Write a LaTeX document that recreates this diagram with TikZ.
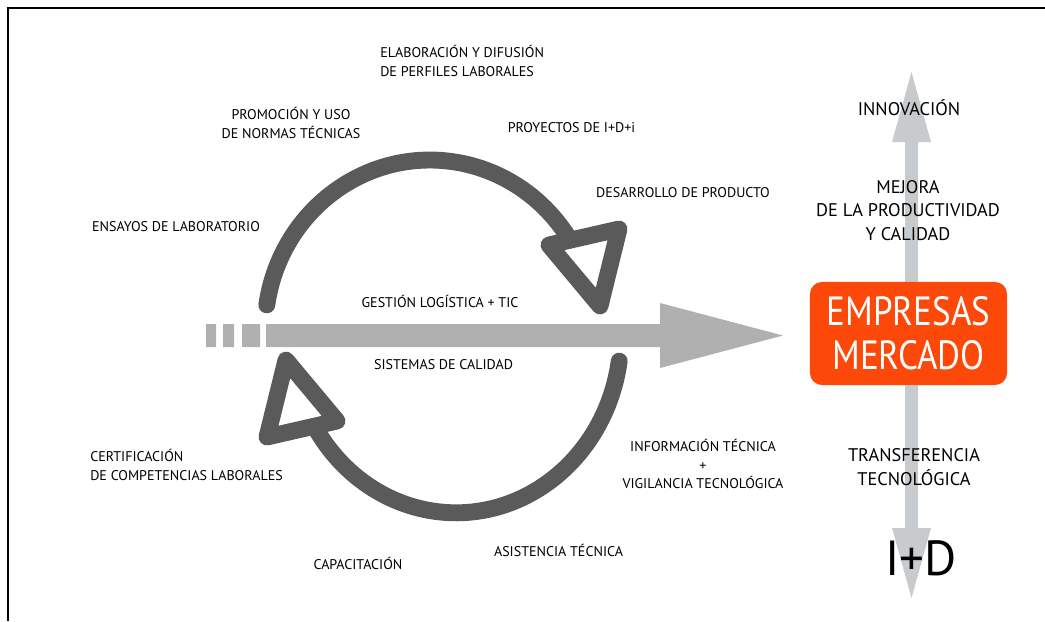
\documentclass[tikz,border=0pt]{standalone}
\usepackage{fontspec}
\setmainfont{PT Sans}
\newfontfamily\angosta[FakeStretch=0.86]{PT Sans}
\usetikzlibrary{positioning}
\definecolor{flecha}{RGB}{176,176,176}
\definecolor{flechav}{RGB}{200,203,205}
\definecolor{ciclo}{RGB}{90,90,90}
\definecolor{naranja}{RGB}{252,72,8}
\tikzset{
  etiq/.style={font=\fontsize{10}{13}\selectfont, inner sep=0pt, align=center},
  etiqg/.style={font=\fontsize{13}{16.7}\selectfont, inner sep=0pt, align=center},
  giro/.style={draw=ciclo, line width=12pt, line cap=round, line join=round},
  caja/.style={fill=naranja, text=white, rounded corners=0.3cm,
    minimum width=4.925cm, minimum height=2.575cm, align=center,
    font=\angosta\fontsize{29}{31.3}\selectfont}
}

\begin{document}
\begin{tikzpicture}[x=0.025cm, y=-0.025cm]
  \useasboundingbox (0,0) rectangle (1045,621);
  \path
    (266,324) coordinate (a1)
    (660,347) coordinate (a2)
    (783,335.5) coordinate (punta)
    (911.5,72) coordinate (arriba)
    (911.5,598) coordinate (abajo)
    (443,333) coordinate (centro);

  % marco
  \draw[line width=1.5pt] (8,621) -- (8,8) -- (1045,8);

  % flechas verticales
  \fill[flechav] (905,142) rectangle (918,290) (892,142) -- (arriba) -- (931,142) -- cycle;
  \fill[flechav] (905,380) rectangle (918,528) (892,528) -- (abajo) -- (931,528) -- cycle;

  % flecha horizontal
  \fill[flecha] (206,324) rectangle (216,347) (223,324) rectangle (234,347)
    (242,324) rectangle (260,347);
  \fill[flecha] (a1) -- (660,324) -- (660,303) -- (punta) -- (660,368) -- (a2)
    -- (266,347) -- cycle;

  % ciclo de arriba y de abajo
  \foreach \giro/\radio in {0/170,180/178} {
    \begin{scope}[rotate around={\giro:(centro)}]
      \draw[giro] (266.8,304.9) arc[start angle=188.5, end angle=328, x radius=165, y radius=\radio];
      \draw[giro] (549,245) -- (619,229) -- (600,306) -- cycle;
    \end{scope}
  }

  \node[caja] (empresas) at (908.5,333.5) {EMPRESAS\\MERCADO};

  % textos del ciclo
  \node[etiq, anchor=west, align=left] (elab) at (380,61) {ELABORACIÓN Y DIFUSIÓN\\DE PERFILES LABORALES};
  \node[etiq] (promo) at (291,123) {PROMOCIÓN Y USO\\DE NORMAS TÉCNICAS};
  \node[etiq] (proy) at (571.5,128) {PROYECTOS DE I+D+i};
  \node[etiq] (desa) at (683,193) {DESARROLLO DE PRODUCTO};
  \node[etiq] (ensa) at (176,227) {ENSAYOS DE LABORATORIO};
  \node[etiq] (gest) at (440,301) {GESTIÓN LOGÍSTICA + TIC};
  \node[etiq] (siste) at (443.5,365) {SISTEMAS DE CALIDAD};
  \node[etiq, anchor=west, align=left] (certi) at (90,465) {CERTIFICACIÓN\\DE COMPETENCIAS LABORALES};
  \node[etiq] (info) at (703,464) {INFORMACIÓN TÉCNICA\\+\\VIGILANCIA TECNOLÓGICA};
  \node[etiq] (capa) at (358,563) {CAPACITACIÓN};
  \node[etiq] (asis) at (558.5,550) {ASISTENCIA TÉCNICA};

  % textos de la derecha
  \node[etiqg] (innova) at (909,108) {INNOVACIÓN};
  \node[etiqg] (mejora) at (908,210.5) {MEJORA\\DE LA PRODUCTIVIDAD\\Y CALIDAD};
  \node[etiqg] (transf) at (914,467) {TRANSFERENCIA\\TECNOLÓGICA};
  \node[inner sep=0pt, font=\fontsize{35}{36}\selectfont] (imasd) at (921,558) {I+D};
\end{tikzpicture}
\end{document}
